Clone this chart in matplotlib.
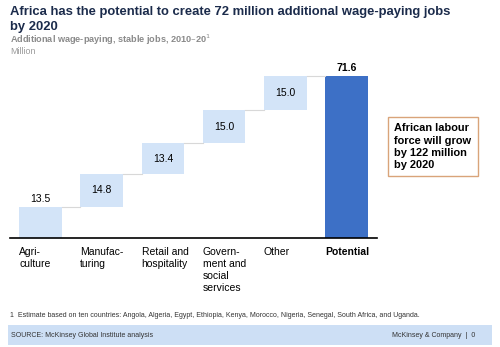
import matplotlib.pyplot as plt
from matplotlib.patches import Rectangle

plt.rcParams['font.family'] = ['Liberation Sans', 'DejaVu Sans']

categories = ["Agri-\nculture", "Manufac-\nturing", "Retail and\nhospitality",
              "Govern-\nment and\nsocial\nservices", "Other", "Potential"]
steps = [13.5, 14.8, 13.4, 15.0, 15.0]
total = 71.6

light = "#d3e4f8"
dark = "#3d70c6"

fig = plt.figure(figsize=(5, 3.47), dpi=100)

# waterfall axes
ax = fig.add_axes([0.02, 0.315, 0.734, 0.521])
width = 0.7
bottom = 0
for i, v in enumerate(steps):
    ax.bar(i, v, width, bottom=bottom, color=light, edgecolor="none")
    top = bottom + v
    if i == 0:
        ax.text(i, top + 1.2, f"{v:.1f}", ha="center", va="bottom", fontsize=7.5)
    else:
        ax.text(i, bottom + v / 2, f"{v:.1f}", ha="center", va="center", fontsize=7.5)
    # connector to next bar
    ax.plot([i + width / 2, i + 1 - width / 2], [top, top], color="#d8d8d8", lw=0.8)
    bottom = top

n = len(steps)
ax.bar(n, total, width, color=dark, edgecolor="none")
ax.text(n, total + 1.2, f"{total:.1f}", ha="center", va="bottom", fontsize=7.5, fontweight="bold")

ax.set_xlim(-0.5, n + 0.5)
ax.set_ylim(0, 80)
for s in ["top", "right", "left"]:
    ax.spines[s].set_visible(False)
ax.spines["bottom"].set_linewidth(1.2)
ax.set_xticks([])
ax.set_yticks([])

trans = ax.get_xaxis_transform()
for i, lab in enumerate(categories):
    ax.text(i - width / 2, -0.05, lab, transform=trans, ha="left", va="top",
            fontsize=7.5, linespacing=1.25,
            fontweight="bold" if lab == "Potential" else "normal")

# title block
fig.text(0.02, 0.982, "Africa has the potential to create 72 million additional wage-paying jobs\nby 2020",
         ha="left", va="top", fontsize=9.4, fontweight="bold", color="#1b2b4b", linespacing=1.3)
fig.text(0.02, 0.905, "Additional wage-paying, stable jobs, 2010\u201320$^{1}$",
         ha="left", va="top", fontsize=6.6, fontweight="bold", color="#8a8a8a")
fig.text(0.02, 0.864, "Million", ha="left", va="top", fontsize=6.4, color="#9a9a9a")

# callout box
fig.text(0.789, 0.645, "African labour\nforce will grow\nby 122 million\nby 2020",
         ha="left", va="top", fontsize=7.9, fontweight="bold", linespacing=1.3,
         bbox=dict(boxstyle="square,pad=0.55", fc="white", ec="#d9a47a", lw=1.0))

# footnote and source band
fig.text(0.02, 0.09, "1  Estimate based on ten countries: Angola, Algeria, Egypt, Ethiopia, Kenya, Morocco, "
         "Nigeria, Senegal, South Africa, and Uganda.",
         ha="left", va="center", fontsize=5.0, color="#333333")
fig.patches.append(Rectangle((0.016, 0.005), 0.968, 0.058, transform=fig.transFigure,
                             facecolor="#cddff5", edgecolor="none"))
fig.text(0.022, 0.034, "SOURCE: McKinsey Global Institute analysis",
         ha="left", va="center", fontsize=5.0, color="#333333")
fig.text(0.95, 0.034, "McKinsey & Company  |  0",
         ha="right", va="center", fontsize=5.0, color="#333333")

fig.savefig("out.png", dpi=100)
